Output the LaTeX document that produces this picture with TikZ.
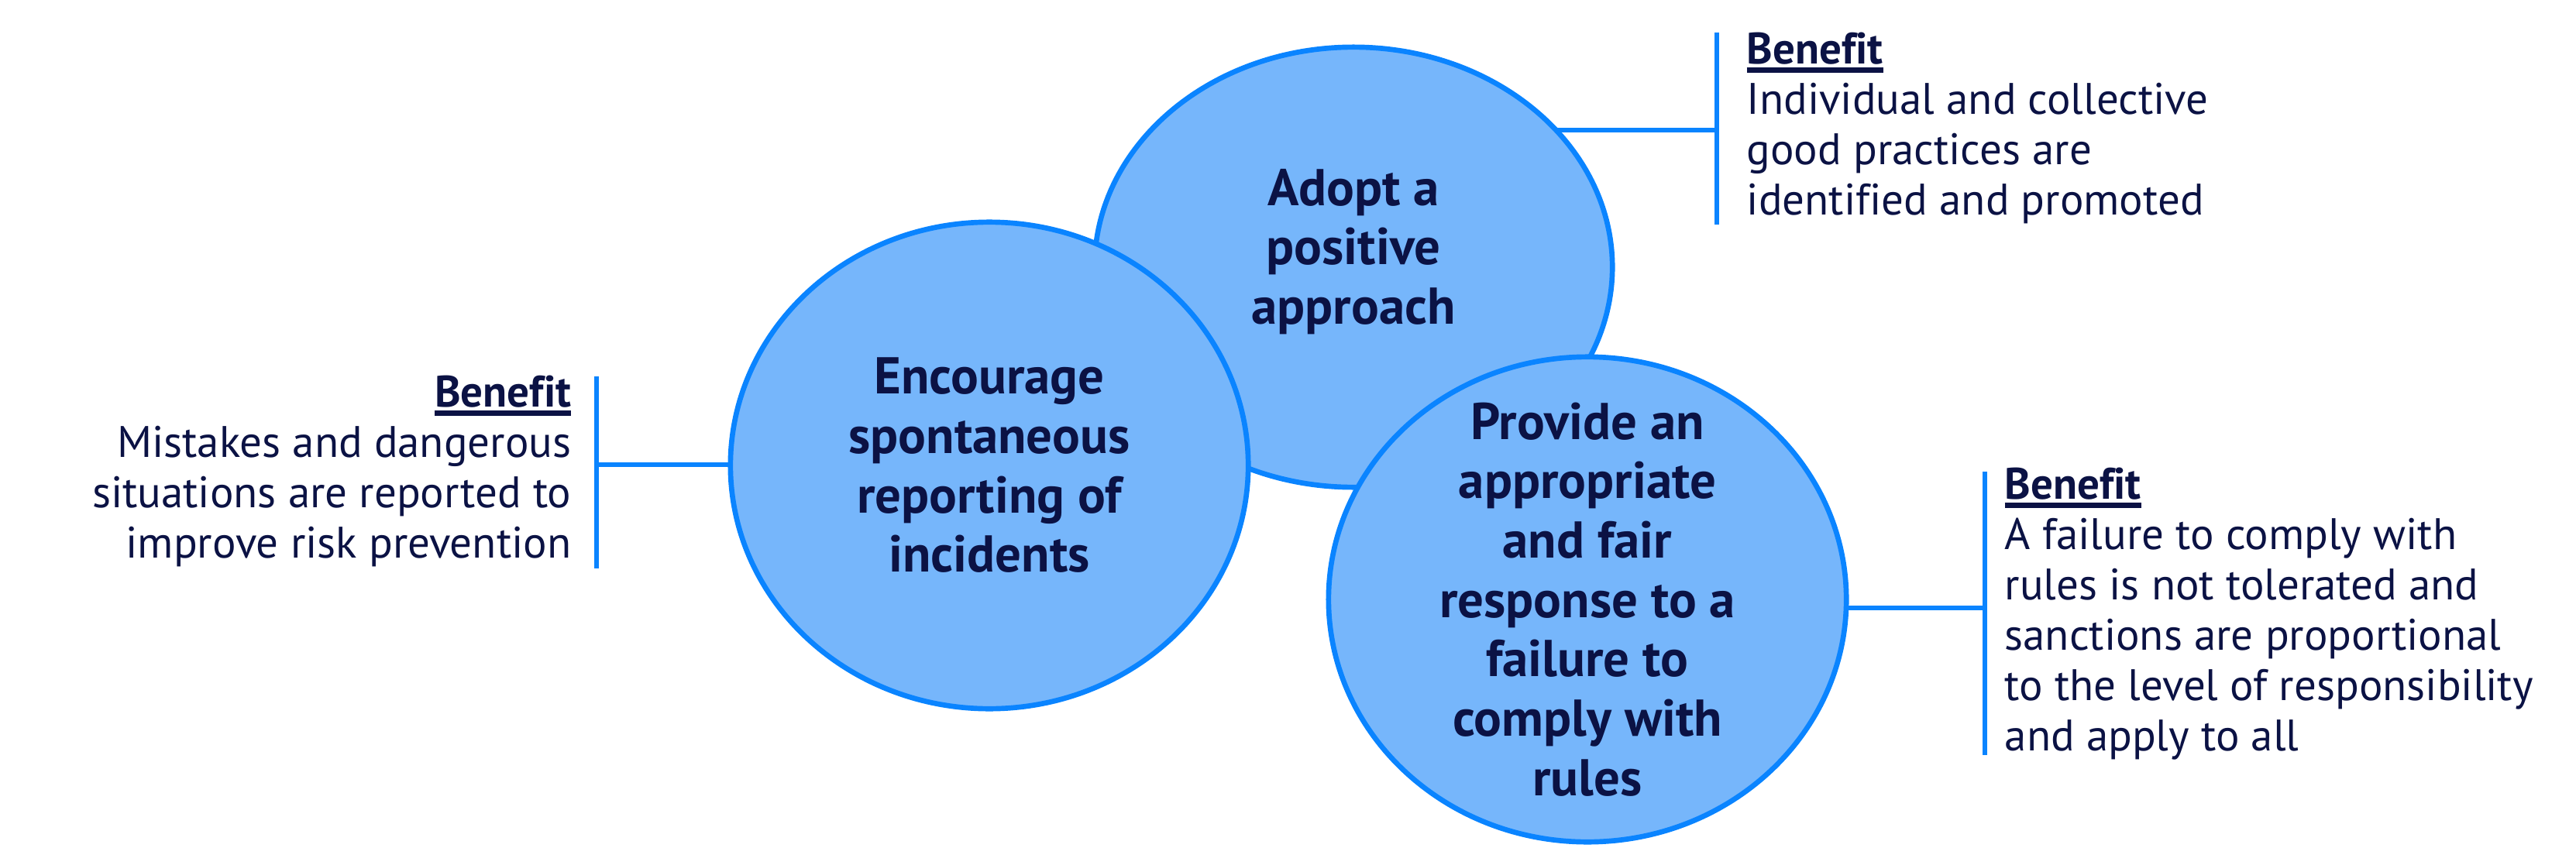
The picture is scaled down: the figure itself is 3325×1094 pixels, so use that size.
\documentclass[tikz,border=0pt]{standalone}
\usepackage{fontspec}
\setmainfont{PT Sans}[Ligatures=NoCommon]
\usetikzlibrary{shapes.geometric, backgrounds, positioning}

\definecolor{bubblefill}{HTML}{76B6FB}
\definecolor{bubbleline}{HTML}{0A84FF}
\definecolor{inkblue}{HTML}{0B1244}

\newcommand{\benefithead}{\sbox0{\bfseries Benefit}\rlap{\color{inkblue}\rule[-3.4pt]{\wd0}{2pt}}\usebox0}

\begin{document}
\begin{tikzpicture}[x=0.01cm, y=-0.01cm,
    bubble/.style={ellipse, draw=bubbleline, fill=bubblefill, line width=1.9pt,
        minimum width=6.68cm, inner sep=0pt},
    bubbletext/.style={align=center, text=inkblue,
        font=\fontsize{19}{21.8}\selectfont\bfseries},
    benefit/.style={text=inkblue, inner sep=0pt,
        font=\fontsize{16.2}{18.5}\selectfont},
    bar/.style={draw=bubbleline, line width=1.5pt}]

    \useasboundingbox (0,0) rectangle (3325,1094);

    % bubbles
    \node[bubble, minimum height=5.68cm] (adopt) at (1747,345) {};
    \node[bubble, minimum height=6.28cm] (encourage) at (1277,601) {};
    \node[bubble, minimum height=6.26cm] (provide) at (2049,774) {};

    \node[bubbletext] (adopttxt) at ([yshift=0.2cm]adopt.center) {Adopt a\\positive\\approach};
    \node[bubbletext] (encouragetxt) at (encourage) {Encourage\\spontaneous\\reporting of\\incidents};
    \node[bubbletext] (providetxt) at (provide) {Provide an\\appropriate\\and fair\\response to a\\failure to\\comply with\\rules};

    % brackets
    \coordinate (lbar) at (770,600);
    \coordinate (tbar) at (2216,168);
    \coordinate (rbar) at (2562,785);

    \draw[bar] ([yshift=1.14cm]lbar) -- ([yshift=-1.34cm]lbar);
    \draw[bar] ([yshift=1.26cm]tbar) -- ([yshift=-1.22cm]tbar);
    \draw[bar] ([yshift=1.76cm]rbar) -- ([yshift=-1.90cm]rbar);

    \begin{scope}[on background layer]
        \draw[bar] (lbar) -- (lbar -| encourage);
        \draw[bar] (tbar) -- (tbar -| adopt);
        \draw[bar] (rbar) -- (rbar -| provide);
    \end{scope}

    % benefit texts
    \node[benefit, align=right, anchor=north east] (lefttxt) at (738,484)
        {\benefithead\\Mistakes and dangerous\\situations are reported to\\improve risk prevention};
    \node[benefit, align=left, anchor=north west] (toptxt) at (2254,41)
        {\benefithead\\Individual and collective\\good practices are\\identified and promoted};
    \node[benefit, align=left, anchor=north west] (righttxt) at (2587,603)
        {\benefithead\\A failure to comply with\\rules is not tolerated and\\sanctions are proportional\\to the level of responsibility\\and apply to all};

\end{tikzpicture}
\end{document}
